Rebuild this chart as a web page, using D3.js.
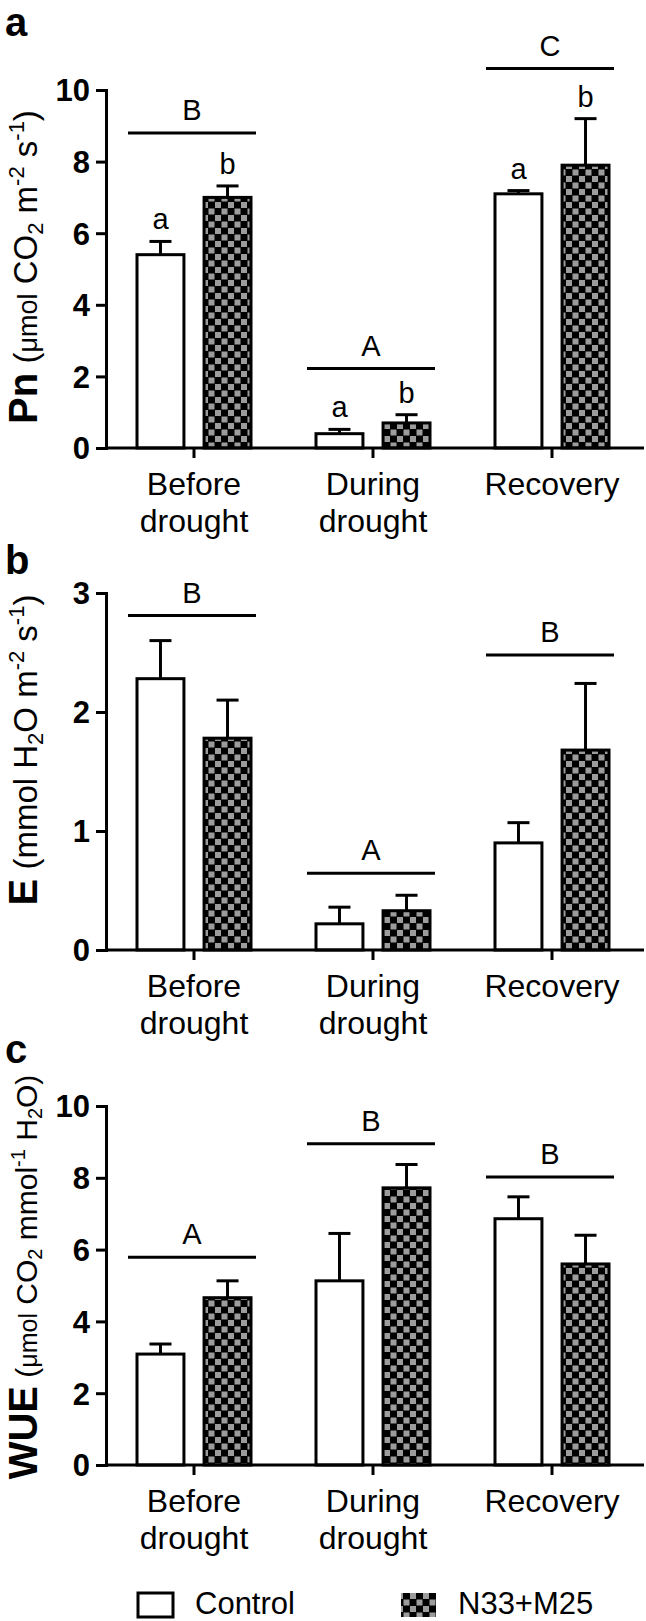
<!DOCTYPE html>
<html><head><meta charset="utf-8">
<script src="https://cdn.jsdelivr.net/npm/d3@7"></script>
<style>body{margin:0;background:#fff} text{font-family:"Liberation Sans",Arial,sans-serif;fill:#000}</style>
</head><body><svg id="chart" width="646" height="1621"></svg>
<script>
// ---------- data ----------
const categories = ["Before drought", "During drought", "Recovery"];
const categoryLines = [["Before", "drought"], ["During", "drought"], ["Recovery"]];
const series = ["Control", "N33+M25"];

const pnTicks = [0, 2, 4, 6, 8, 10];
const pnControl = [5.4, 0.4, 7.1];
const pnControlErr = [0.37, 0.12, 0.09];
const pnTreat = [7.0, 0.7, 7.9];
const pnTreatErr = [0.32, 0.23, 1.3];
const pnGroupLetters = ["B", "A", "C"];
const pnGroupLineY = [8.8, 2.22, 10.6];
const pnBarLetters = [["a", "b"], ["a", "b"], ["a", "b"]];

const eTicks = [0, 1, 2, 3];
const eControl = [2.28, 0.22, 0.90];
const eControlErr = [0.32, 0.14, 0.17];
const eTreat = [1.78, 0.33, 1.68];
const eTreatErr = [0.32, 0.13, 0.56];
const eGroupLetters = ["B", "A", "B"];
const eGroupLineY = [2.81, 0.645, 2.48];

const wueTicks = [0, 2, 4, 6, 8, 10];
const wueControl = [3.09, 5.13, 6.86];
const wueControlErr = [0.28, 1.32, 0.61];
const wueTreat = [4.66, 7.72, 5.60];
const wueTreatErr = [0.47, 0.65, 0.80];
const wueGroupLetters = ["A", "B", "B"];
const wueGroupLineY = [5.79, 8.95, 8.02];

// ---------- layout ----------
const svg = d3.select("#chart");
const defs = svg.append("defs");
const pat = defs.append("pattern").attr("id", "checker")
  .attr("patternUnits", "userSpaceOnUse").attr("width", 13).attr("height", 13);
pat.append("rect").attr("width", 13).attr("height", 13).attr("fill", "#000");
pat.append("rect").attr("x", 0.5).attr("y", 0.5).attr("width", 6).attr("height", 6).attr("fill", "#9c9c9c");
pat.append("rect").attr("x", 7).attr("y", 7).attr("width", 6).attr("height", 6).attr("fill", "#9c9c9c");

const axisX = 106, axisRight = 644;
const x0 = d3.scaleBand().domain(categories).range([104.5, 641.5]);
const x1 = d3.scaleBand().domain(series).range([-57, 57]).paddingInner(0.3);
const fills = ["#fff", "url(#checker)"];

const panels = [
  {label: "a", top: 90, bottom: 448, ticks: pnTicks, vals: [pnControl, pnTreat], errs: [pnControlErr, pnTreatErr],
   gl: pnGroupLetters, gy: pnGroupLineY, bl: pnBarLetters,
   title: [["Pn", 40, "bold"], [" (", 33], ["\u03bcmol", 27], [" CO", 33], ["2", 22, "", "sub"], [" m", 33], ["-2", 22, "", "sup"], [" s", 33], ["-1", 22, "", "sup"], [")", 33]],
   titleMid: 267, labelY: 36},
  {label: "b", top: 593, bottom: 950, ticks: eTicks, vals: [eControl, eTreat], errs: [eControlErr, eTreatErr],
   gl: eGroupLetters, gy: eGroupLineY, bl: null,
   title: [["E", 40, "bold"], [" (mmol H", 33], ["2", 22, "", "sub"], ["O m", 33], ["-2", 22, "", "sup"], [" s", 33], ["-1", 22, "", "sup"], [")", 33]],
   titleMid: 750, labelY: 574},
  {label: "c", top: 1106, bottom: 1465, ticks: wueTicks, vals: [wueControl, wueTreat], errs: [wueControlErr, wueTreatErr],
   gl: wueGroupLetters, gy: wueGroupLineY, bl: null,
   title: [["WUE", 40, "bold"], [" (", 30], ["\u03bcmol", 25], [" CO", 30], ["2", 20, "", "sub"], [" mmol", 30], ["-1", 20, "", "sup"], [" H", 30], ["2", 20, "", "sub"], ["O)", 30]],
   titleMid: 1277, labelY: 1063}
];

panels.forEach(p => {
  const ymax = d3.max(p.ticks);
  const y = d3.scaleLinear().domain([0, ymax]).range([p.bottom, p.top]);
  const g = svg.append("g");

  // panel label
  g.append("text").attr("x", 5).attr("y", p.labelY).attr("font-size", 40).attr("font-weight", "bold").text(p.label);

  // y axis
  const ya = g.append("g").attr("transform", `translate(${axisX},0)`)
    .call(d3.axisLeft(y).tickValues(p.ticks).tickSize(10).tickSizeOuter(0).tickPadding(6).tickFormat(d3.format("d")));
  ya.select(".domain").attr("stroke-width", 3).attr("stroke-linecap", "square");
  ya.selectAll(".tick line").attr("stroke-width", 3);
  ya.selectAll(".tick text").attr("font-size", 31).attr("font-weight", "bold")
    .attr("font-family", "Liberation Sans, Arial, sans-serif").attr("dy", "0.35em");

  // bars
  categories.forEach((c, i) => {
    const cx = x0(c) + x0.bandwidth() / 2;
    series.forEach((s, j) => {
      const v = p.vals[j][i], e = p.errs[j][i];
      const bx = cx + x1(s);
      const bw = x1.bandwidth();
      const mid = bx + bw / 2;
      // error bar
      g.append("line").attr("x1", mid).attr("x2", mid).attr("y1", y(v)).attr("y2", y(v + e))
        .attr("stroke", "#000").attr("stroke-width", 3);
      g.append("line").attr("x1", mid - 11).attr("x2", mid + 11).attr("y1", y(v + e)).attr("y2", y(v + e))
        .attr("stroke", "#000").attr("stroke-width", 3);
      g.append("rect").attr("x", bx).attr("y", y(v)).attr("width", bw).attr("height", y(0) - y(v))
        .attr("fill", fills[j]).attr("stroke", "#000").attr("stroke-width", 3);
      if (p.bl) {
        g.append("text").attr("x", mid).attr("y", y(v + e) - 12).attr("text-anchor", "middle")
          .attr("font-size", 29).text(p.bl[i][j]);
      }
    });
    // group line + letter
    g.append("line").attr("x1", cx - 66).attr("x2", cx + 62).attr("y1", y(p.gy[i])).attr("y2", y(p.gy[i]))
      .attr("stroke", "#000").attr("stroke-width", 3);
    g.append("text").attr("x", cx - 2).attr("y", y(p.gy[i]) - 13).attr("text-anchor", "middle")
      .attr("font-size", 29).text(p.gl[i]);
  });

  // x axis
  const xa = g.append("g").attr("transform", `translate(0,${y(0)})`)
    .call(d3.axisBottom(x0).tickSize(10).tickSizeOuter(0).tickFormat(""));
  xa.select(".domain").remove();
  xa.selectAll(".tick line").attr("stroke-width", 3);
  g.append("line").attr("x1", axisX).attr("x2", axisRight).attr("y1", y(0)).attr("y2", y(0))
    .attr("stroke", "#000").attr("stroke-width", 3);
  categories.forEach((c, i) => {
    const cx = x0(c) + x0.bandwidth() / 2;
    const t = g.append("text").attr("text-anchor", "middle").attr("font-size", 32);
    categoryLines[i].forEach((ln, k) => {
      t.append("tspan").attr("x", cx).attr("y", y(0) + 47 + k * 37).text(ln);
    });
  });

  // y title
  const tt = g.append("text").attr("transform", `translate(37,${p.titleMid}) rotate(-90)`).attr("text-anchor", "middle");
  p.title.forEach(([txt, fs, fw, pos]) => {
    const ts = tt.append("tspan").attr("font-size", fs).text(txt);
    if (fw) ts.attr("font-weight", fw);
    if (pos === "sub") ts.attr("baseline-shift", "-25%");
    if (pos === "sup") ts.attr("baseline-shift", "60%");
  });
});

// legend
const leg = svg.append("g");
series.forEach((s, j) => {
  const lx = [138, 401][j];
  leg.append("rect").attr("x", lx).attr("y", 1593).attr("width", 35).attr("height", 24)
    .attr("fill", fills[j]).attr("stroke", "#000").attr("stroke-width", j === 0 ? 3 : 0);
  leg.append("text").attr("x", lx + 57).attr("y", 1614).attr("font-size", 31).text(s);
});
</script></body></html>
